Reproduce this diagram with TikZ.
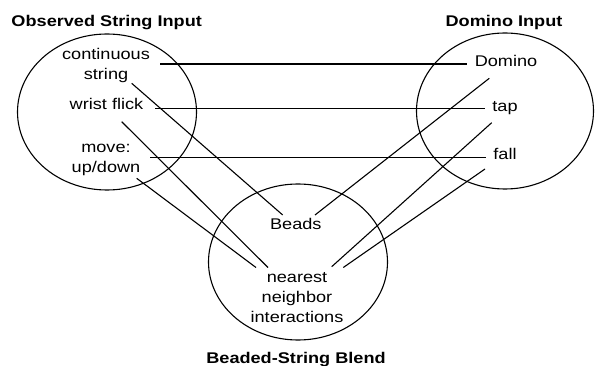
\documentclass[tikz,border=0pt]{standalone}
\usepackage{fontspec}
\setmainfont{Liberation Sans}[FakeStretch=1.17]
\usetikzlibrary{shapes.geometric}
\begin{document}
\begin{tikzpicture}[x=1pt,y=1pt,
  labeltext/.style={font=\fontsize{15.5}{20}\selectfont, inner sep=0pt, align=center},
  titletext/.style={font=\fontsize{15.5}{20}\selectfont\bfseries, inner sep=0pt, anchor=base},
  setshape/.style={draw, ellipse, line width=1.1pt, inner sep=0pt,
                   minimum width=179pt, minimum height=156pt},
  link/.style={line width=1.1pt}]
\useasboundingbox (0,0) rectangle (595,-366);

% the three mental spaces
\node[setshape] (obs) at (107,-112) {};
\node[setshape, minimum width=177pt] (domset) at (505,-111) {};
\node[setshape] (blend) at (298,-262) {};

% space titles
\node[titletext] (obstitle) at (106.7,-27) {Observed String Input};
\node[titletext] (domtitle) at (504,-27) {Domino Input};
\node[titletext] (blendtitle) at (296,-363) {Beaded-String Blend};

% elements of each space
\node[labeltext] (cs) at (106,-65.6) {continuous\\string};
\node[labeltext, anchor=base] (wf) at (106.5,-110) {wrist flick};
\node[labeltext] (mv) at (106,-160.2) {move:\\up/down};
\node[labeltext, anchor=base] (dom) at (506,-66.7) {Domino};
\node[labeltext, anchor=base] (tap) at (505,-111.7) {tap};
\node[labeltext, anchor=base] (fall) at (505,-159.5) {fall};
\node[labeltext, anchor=base] (beads) at (295.8,-229.3) {Beads};
\node[labeltext] (nn) at (297,-297.4) {nearest\\neighbor\\interactions};

% cross-space mappings
\draw[link] ([shift={(54,1.6)}]cs.center) -- ([shift={(-39.3,2.7)}]dom.base);
\draw[link] ([shift={(48.5,1.7)}]wf.base) -- ([shift={(-20,3.4)}]tap.base);
\draw[link] ([shift={(44,2.9)}]mv.center) -- ([shift={(-19,2.2)}]fall.base);

% projections into the blend
\draw[link] ([shift={(25.7,-17.7)}]cs.center) -- ([shift={(-13.1,14.3)}]beads.base);
\draw[link] ([shift={(15.2,-11.7)}]wf.base) -- ([shift={(-29,29.9)}]nn.center);
\draw[link] ([shift={(30.7,-18.1)}]mv.center) -- ([shift={(-41,29.9)}]nn.center);
\draw[link] ([shift={(-16.7,-11.6)}]dom.base) -- ([shift={(19.2,14.3)}]beads.base);
\draw[link] ([shift={(-13.3,-11)}]tap.base) -- ([shift={(34.7,30.7)}]nn.center);
\draw[link] ([shift={(-20,-9.5)}]fall.base) -- ([shift={(46.3,29.9)}]nn.center);
\end{tikzpicture}
\end{document}
